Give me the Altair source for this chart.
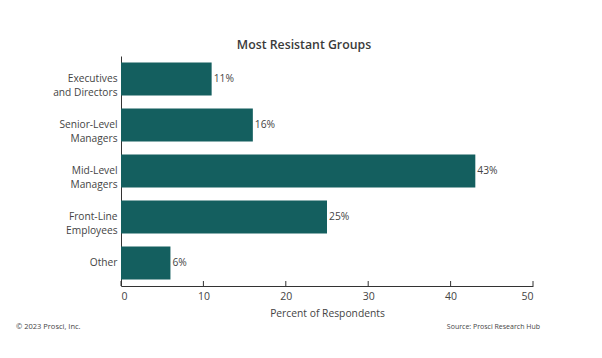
import altair as alt
import pandas as pd

categories = ["Executives|and Directors", "Senior-Level|Managers", "Mid-Level|Managers", "Front-Line|Employees", "Other"]
values = [11, 16, 43, 25, 6]
labels = ["11%", "16%", "43%", "25%", "6%"]
ticks = [0, 10, 20, 30, 40, 50]

df = pd.DataFrame({"group": categories, "value": values, "label": labels})
tick_df = pd.DataFrame({"t": ticks})

FONT = "Open Sans"
BAR = "#145F5F"
TXT = "#444444"

y_enc = alt.Y("group:N", sort=categories, title=None,
              scale=alt.Scale(paddingInner=0.28, paddingOuter=0.14),
              axis=alt.Axis(labelExpr="split(datum.label, '|')", ticks=False, domainColor="#333333",
                            labelFont=FONT, labelFontSize=10.2, labelColor=TXT, labelPadding=4,
                            labelLineHeight=14))
x_enc = alt.X("value:Q", title="Percent of Respondents",
              scale=alt.Scale(domain=[0, 50], nice=False),
              axis=alt.Axis(values=ticks, grid=False, tickSize=0, domainColor="#333333",
                            labelFont=FONT, labelFontSize=10.5, labelColor=TXT, labelPadding=5,
                            titleFont=FONT, titleFontSize=10.3, titleColor=TXT, titleFontWeight="normal",
                            titlePadding=7))

bars = alt.Chart(df).mark_bar(color=BAR).encode(x=x_enc, y=y_enc)
text = alt.Chart(df).mark_text(align="left", dx=2, font=FONT, fontSize=10.3, color=TXT).encode(
    x="value:Q", y=alt.Y("group:N", sort=categories), text="label:N")

tick_rules = alt.Chart(tick_df).mark_rule(color="#333333", strokeWidth=1).encode(
    x="t:Q", y=alt.value(225), y2=alt.value(230))

title = alt.Chart(pd.DataFrame({"s": ["Most Resistant Groups"]})).mark_text(
    font=FONT, fontSize=12.3, fontWeight=600, color="#3a3a3a", align="center", baseline="middle").encode(
    x=alt.value(183), y=alt.value(-11), text="s:N")
left_foot = alt.Chart(pd.DataFrame({"s": ["© 2023 Prosci, Inc."]})).mark_text(
    font=FONT, fontSize=7.5, color=TXT, align="left", baseline="middle").encode(
    x=alt.value(-105), y=alt.value(271), text="s:N")
right_foot = alt.Chart(pd.DataFrame({"s": ["Source: Prosci Research Hub"]})).mark_text(
    font=FONT, fontSize=7, color=TXT, align="right", baseline="middle").encode(
    x=alt.value(419), y=alt.value(271), text="s:N")

chart = alt.layer(bars, text, tick_rules, title, left_foot, right_foot).properties(
    width=412, height=230,
    autosize=alt.AutoSizeParams(type="none"),
    padding={"left": 113, "top": 48, "right": 61, "bottom": 64},
).configure_view(stroke=None)

chart.save("out.html", embed_options={"renderer": "svg", "actions": False})
